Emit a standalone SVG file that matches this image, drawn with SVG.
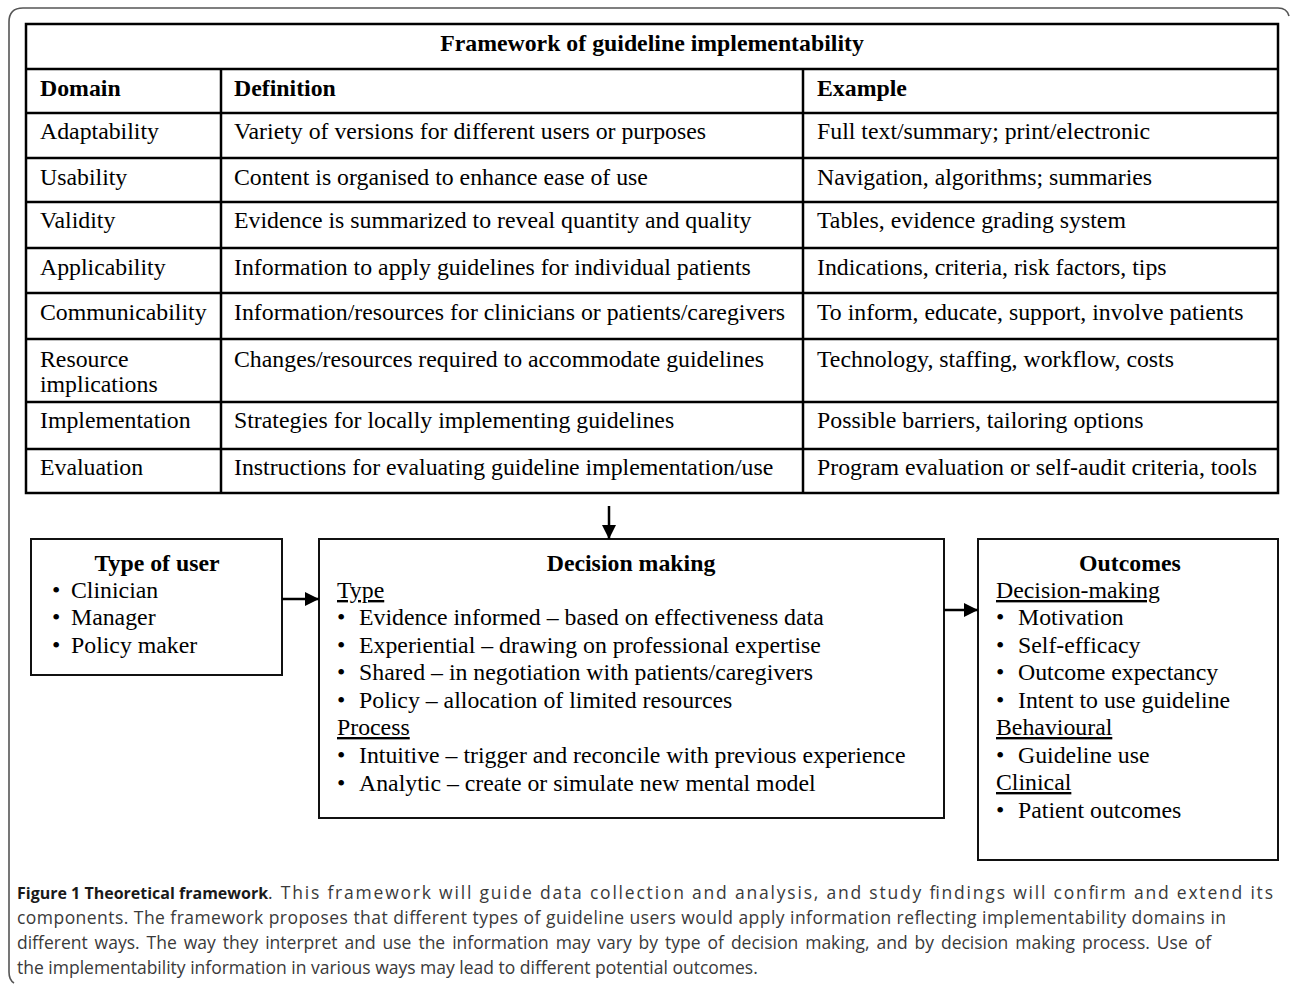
<svg xmlns="http://www.w3.org/2000/svg" width="1290" height="985" viewBox="0 0 1290 985">
<defs>
<style>
.t{font-family:"Liberation Serif","Times New Roman",serif;font-size:23.8px;fill:#000}
.b{font-weight:bold}
.u{text-decoration:underline}
.cap{font-family:"Open Sans","Noto Sans",sans-serif;font-size:17.5px;fill:#3a3a3a}
.capb{font-weight:bold;fill:#1a1a1a;font-size:16px}
.grid{stroke:#000;stroke-width:2.5;fill:none}
.box{stroke:#111;stroke-width:2;fill:#fff}
.conn{stroke:#000;stroke-width:2.5;fill:none}
</style>
<marker id="ah" markerWidth="14" markerHeight="14" refX="14" refY="7" orient="auto" markerUnits="userSpaceOnUse" viewBox="0 0 14 14">
<path d="M0,0 L14,7 L0,14 z" fill="#000"/>
</marker>
</defs>
<rect width="1290" height="985" fill="#fff"/>
<path d="M14,983 Q9,980 9,972 L9,22 Q9,8 23,8 L1278,8 Q1287,8 1289,16" fill="none" stroke="#555" stroke-width="1.6"/>

<g id="table">
<rect class="grid" x="26" y="24" width="1252" height="469"/>
<line class="grid" x1="26" y1="69" x2="1278" y2="69"/>
<line class="grid" x1="26" y1="113" x2="1278" y2="113"/>
<line class="grid" x1="26" y1="158" x2="1278" y2="158"/>
<line class="grid" x1="26" y1="202" x2="1278" y2="202"/>
<line class="grid" x1="26" y1="248" x2="1278" y2="248"/>
<line class="grid" x1="26" y1="293" x2="1278" y2="293"/>
<line class="grid" x1="26" y1="339" x2="1278" y2="339"/>
<line class="grid" x1="26" y1="402" x2="1278" y2="402"/>
<line class="grid" x1="26" y1="449" x2="1278" y2="449"/>
<line class="grid" x1="221" y1="69" x2="221" y2="493"/>
<line class="grid" x1="803" y1="69" x2="803" y2="493"/>
<text class="t b" x="652" y="51" text-anchor="middle">Framework of guideline implementability</text>
<text class="t b" x="40" y="96">Domain</text>
<text class="t b" x="234" y="96">Definition</text>
<text class="t b" x="817" y="96">Example</text>
<text class="t" x="40" y="139">Adaptability</text>
<text class="t" x="234" y="139">Variety of versions for different users or purposes</text>
<text class="t" x="817" y="139">Full text/summary; print/electronic</text>
<text class="t" x="40" y="185">Usability</text>
<text class="t" x="234" y="185">Content is organised to enhance ease of use</text>
<text class="t" x="817" y="185">Navigation, algorithms; summaries</text>
<text class="t" x="40" y="228">Validity</text>
<text class="t" x="234" y="228">Evidence is summarized to reveal quantity and quality</text>
<text class="t" x="817" y="228">Tables, evidence grading system</text>
<text class="t" x="40" y="275">Applicability</text>
<text class="t" x="234" y="275">Information to apply guidelines for individual patients</text>
<text class="t" x="817" y="275">Indications, criteria, risk factors, tips</text>
<text class="t" x="40" y="320">Communicability</text>
<text class="t" x="234" y="320">Information/resources for clinicians or patients/caregivers</text>
<text class="t" x="817" y="320">To inform, educate, support, involve patients</text>
<text class="t" x="40" y="367">Resource</text>
<text class="t" x="40" y="392">implications</text>
<text class="t" x="234" y="367">Changes/resources required to accommodate guidelines</text>
<text class="t" x="817" y="367">Technology, staffing, workflow, costs</text>
<text class="t" x="40" y="428">Implementation</text>
<text class="t" x="234" y="428">Strategies for locally implementing guidelines</text>
<text class="t" x="817" y="428">Possible barriers, tailoring options</text>
<text class="t" x="40" y="475">Evaluation</text>
<text class="t" x="234" y="475">Instructions for evaluating guideline implementation/use</text>
<text class="t" x="817" y="475">Program evaluation or self-audit criteria, tools</text>
</g>

<g id="type-of-user">
<rect class="box" x="31" y="539" width="251" height="136"/>
<text class="t b" x="157" y="571" text-anchor="middle">Type of user</text>
<text class="t" x="52" y="598">•</text><text class="t" x="71" y="598">Clinician</text>
<text class="t" x="52" y="625">•</text><text class="t" x="71" y="625">Manager</text>
<text class="t" x="52" y="653">•</text><text class="t" x="71" y="653">Policy maker</text>
</g>

<g id="decision-making">
<rect class="box" x="319" y="539" width="625" height="279"/>
<text class="t b" x="631" y="571" text-anchor="middle">Decision making</text>
<text class="t u" x="337" y="598">Type</text>
<text class="t" x="337" y="625">•</text><text class="t" x="359" y="625">Evidence informed – based on effectiveness data</text>
<text class="t" x="337" y="653">•</text><text class="t" x="359" y="653">Experiential – drawing on professional expertise</text>
<text class="t" x="337" y="680">•</text><text class="t" x="359" y="680">Shared – in negotiation with patients/caregivers</text>
<text class="t" x="337" y="708">•</text><text class="t" x="359" y="708">Policy – allocation of limited resources</text>
<text class="t u" x="337" y="735">Process</text>
<text class="t" x="337" y="763">•</text><text class="t" x="359" y="763">Intuitive – trigger and reconcile with previous experience</text>
<text class="t" x="337" y="791">•</text><text class="t" x="359" y="791">Analytic – create or simulate new mental model</text>
</g>

<g id="outcomes">
<rect class="box" x="978" y="539" width="300" height="321"/>
<text class="t b" x="1130" y="571" text-anchor="middle">Outcomes</text>
<text class="t u" x="996" y="598">Decision-making</text>
<text class="t" x="996" y="625">•</text><text class="t" x="1018" y="625">Motivation</text>
<text class="t" x="996" y="653">•</text><text class="t" x="1018" y="653">Self-efficacy</text>
<text class="t" x="996" y="680">•</text><text class="t" x="1018" y="680">Outcome expectancy</text>
<text class="t" x="996" y="708">•</text><text class="t" x="1018" y="708">Intent to use guideline</text>
<text class="t u" x="996" y="735">Behavioural</text>
<text class="t" x="996" y="763">•</text><text class="t" x="1018" y="763">Guideline use</text>
<text class="t u" x="996" y="790">Clinical</text>
<text class="t" x="996" y="818">•</text><text class="t" x="1018" y="818">Patient outcomes</text>
</g>

<g id="connectors">
<line class="conn" x1="609" y1="506" x2="609" y2="539" marker-end="url(#ah)"/>
<line class="conn" x1="282" y1="599" x2="319" y2="599" marker-end="url(#ah)"/>
<line class="conn" x1="944" y1="610" x2="978" y2="610" marker-end="url(#ah)"/>
</g>

<g id="caption">
<text class="cap capb" x="17" y="899">Figure 1 Theoretical framework</text>
<text class="cap" x="268" y="899" textLength="1005" lengthAdjust="spacing">. This framework will guide data collection and analysis, and study findings will confirm and extend its</text>
<text class="cap" x="17" y="924" textLength="1209" lengthAdjust="spacing">components. The framework proposes that different types of guideline users would apply information reflecting implementability domains in</text>
<text class="cap" x="17" y="949" word-spacing="2.4">different ways. The way they interpret and use the information may vary by type of decision making, and by decision making process. Use of</text>
<text class="cap" x="17" y="974">the implementability information in various ways may lead to different potential outcomes.</text>
</g>
</svg>
